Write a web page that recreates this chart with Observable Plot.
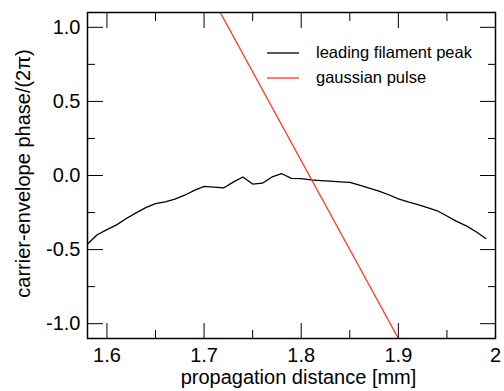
<!DOCTYPE html>
<html><head><meta charset="utf-8">
<script src="https://cdn.jsdelivr.net/npm/d3@7"></script>
<script src="https://cdn.jsdelivr.net/npm/@observablehq/plot@0.6"></script>
<style>
body{margin:0;background:#fff}
svg{font-family:"Liberation Sans",Arial,Helvetica,sans-serif}
</style>
</head><body><div id="chart"></div>
<script>
const filamentX = [1.58,1.59,1.60,1.61,1.62,1.63,1.64,1.65,1.66,1.67,1.68,1.69,1.70,1.71,1.72,1.73,1.74,1.75,1.76,1.77,1.78,1.79,1.80,1.81,1.82,1.83,1.84,1.85,1.86,1.87,1.88,1.89,1.90,1.91,1.92,1.93,1.94,1.95,1.96,1.97,1.98,1.99];
const filamentY = [-0.462,-0.400,-0.365,-0.333,-0.290,-0.252,-0.217,-0.190,-0.178,-0.160,-0.133,-0.100,-0.074,-0.078,-0.084,-0.045,-0.010,-0.058,-0.052,-0.010,0.012,-0.019,-0.021,-0.029,-0.034,-0.038,-0.043,-0.047,-0.065,-0.085,-0.105,-0.130,-0.158,-0.178,-0.196,-0.217,-0.238,-0.273,-0.310,-0.340,-0.380,-0.425];
const gaussianX = [1.60, 2.00];
const gaussianY = [2.50, -2.30];
const xMajor = [1.6,1.7,1.8,1.9,2.0];
const xMinor = [1.65,1.75,1.85,1.95];
const yMajor = [-1,-0.5,0,0.5,1];
const yMinor = [-0.75,-0.25,0.25,0.75];
const seriesNames = ["leading filament peak","gaussian pulse"];
const seriesColors = ["#000000","#ff3c1e"];
const xLabel = "propagation distance [mm]";
const yLabel = "carrier-envelope phase/(2\u03c0)";

const filament = filamentX.map((x,i)=>({x, y: filamentY[i]}));
const gaussian = gaussianX.map((x,i)=>({x, y: gaussianY[i]}));
const fs = 20;
const blank = () => "";

const chart = Plot.plot({
  width: 504, height: 391,
  marginLeft: 87, marginRight: 9, marginTop: 12, marginBottom: 53,
  style: {fontFamily: '"Liberation Sans",Arial,Helvetica,sans-serif', background: "#fff"},
  x: {domain: [1.58, 2.0], label: null},
  y: {domain: [-1.1, 1.1], label: null},
  marks: [
    Plot.line(filament, {x: "x", y: "y", stroke: seriesColors[0], strokeWidth: 1.3}),
    Plot.line(gaussian, {x: "x", y: "y", stroke: seriesColors[1], strokeWidth: 1.3, clip: true}),
    Plot.axisX(xMajor, {anchor: "bottom", tickSize: 0, tickPadding: 9, fontSize: fs, tickFormat: d => d === 2 ? "2" : d.toFixed(1)}),
    Plot.axisX(xMajor, {anchor: "bottom", tickSize: -15, tickFormat: blank}),
    Plot.axisX(xMinor, {anchor: "bottom", tickSize: -8, tickFormat: blank}),
    Plot.axisX(xMajor, {anchor: "top", tickSize: -15, tickFormat: blank}),
    Plot.axisX(xMinor, {anchor: "top", tickSize: -8, tickFormat: blank}),
    Plot.axisY(yMajor, {anchor: "left", tickSize: 0, tickPadding: 7, fontSize: fs, tickFormat: d => d.toFixed(1)}),
    Plot.axisY(yMajor, {anchor: "left", tickSize: -16, tickFormat: blank}),
    Plot.axisY(yMinor, {anchor: "left", tickSize: -8, tickFormat: blank}),
    Plot.axisY(yMajor, {anchor: "right", tickSize: -16, tickFormat: blank}),
    Plot.axisY(yMinor, {anchor: "right", tickSize: -8, tickFormat: blank}),
    Plot.frame({stroke: "#000", strokeWidth: 1.5}),
    Plot.text([xLabel], {frameAnchor: "bottom", text: d => d, dx: 7, dy: 45, fontSize: fs, lineAnchor: "bottom", textAnchor: "middle", fill: "#000"}),
    Plot.text([yLabel], {frameAnchor: "left", text: d => d, rotate: -90, dx: -64, dy: -2, fontSize: fs, lineAnchor: "middle", textAnchor: "middle", fill: "#000"})
  ]
});
document.getElementById("chart").appendChild(chart);

// legend
const svg = d3.select(chart);
const legend = svg.append("g").attr("text-anchor", "start");
seriesNames.forEach((name, i) => {
  const y = 53 + i * 25;
  legend.append("line").attr("x1", 267).attr("x2", 299).attr("y1", y).attr("y2", y)
    .attr("stroke", seriesColors[i]).attr("stroke-width", 1.3);
  legend.append("text").attr("x", 316).attr("y", y).attr("dy", "0.32em")
    .attr("text-anchor", "start")
    .attr("font-size", 16.5).attr("fill", "#000").text(name);
});
</script>
</body></html>
